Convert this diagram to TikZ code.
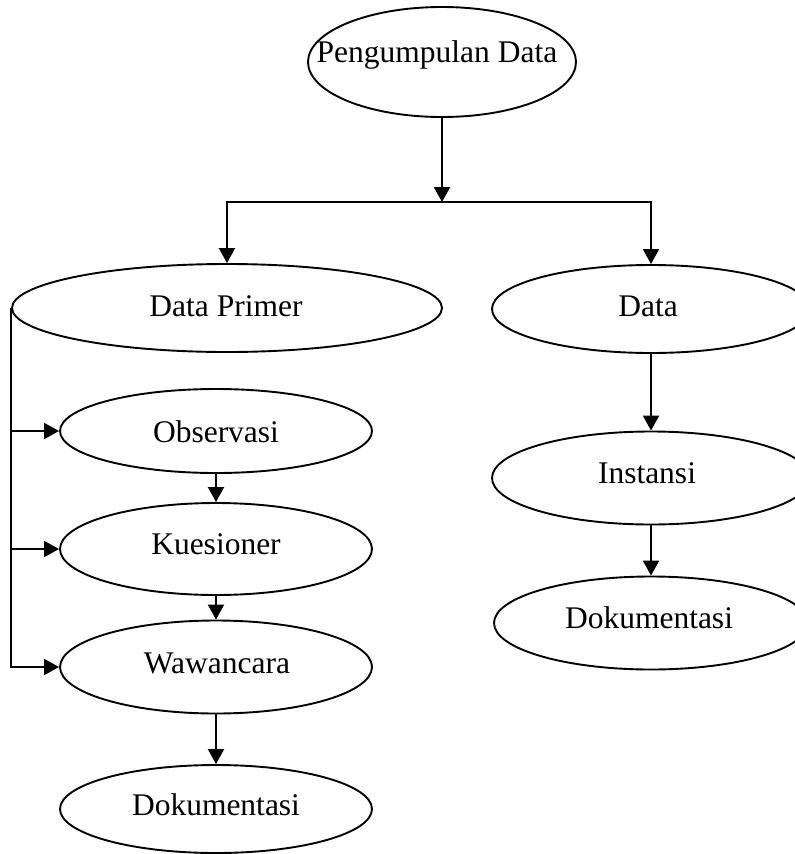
\documentclass[tikz,border=0pt]{standalone}
\usepackage{fontspec}
\setmainfont{Liberation Serif}
\usetikzlibrary{arrows.meta,shapes.geometric}
\begin{document}
\begin{tikzpicture}[x=1pt,y=-1pt,
  ell/.style={draw, ellipse, inner sep=0pt, line width=1.9pt},
  txt/.style={anchor=base, inner sep=0pt, font=\fontsize{31.5}{36}\selectfont},
  arr/.style={line width=2pt, -{Triangle[length=15pt,width=16pt]}}]
\useasboundingbox (0,0) rectangle (795,854);
\clip (0,0) rectangle (795,854);
% ellipses
\node[ell, minimum width=268, minimum height=110] (pd) at (442,62) {};
\node[ell, minimum width=430, minimum height=88] (dp) at (227,308) {};
\node[ell, minimum width=318, minimum height=88] (dt) at (651,309) {};
\node[ell, minimum width=312, minimum height=84] (ob) at (216,431) {};
\node[ell, minimum width=312, minimum height=92] (ku) at (216,549) {};
\node[ell, minimum width=312, minimum height=93] (ww) at (216,667) {};
\node[ell, minimum width=312, minimum height=88] (dk1) at (216,809) {};
\node[ell, minimum width=318, minimum height=93] (in) at (651,478) {};
\node[ell, minimum width=314, minimum height=93] (dk2) at (651,623) {};
% texts
\node[txt] (pdt) at (437,62) {Pengumpulan Data};
\node[txt] (dpt) at (226,316) {Data Primer};
\node[txt] (dtt) at (648,316) {Data};
\node[txt] (obt) at (216,442) {Observasi};
\node[txt] (kut) at (216,554) {Kuesioner};
\node[txt] (wwt) at (217,673) {Wawancara};
\node[txt] (dk1t) at (216,815) {Dokumentasi};
\node[txt] (int) at (647,483) {Instansi};
\node[txt] (dk2t) at (649,628) {Dokumentasi};
% connectors
\coordinate (j) at (442,202);
\draw[arr] (pd.south) -- (j);
\draw[arr] (j) -| (dp.north);
\draw[arr] (j) -| (dt.north);
\draw[arr] (dp.west) |- (ww.west);
\draw[arr] (dp.west |- ob.west) -- (ob.west);
\draw[arr] (dp.west |- ku.west) -- (ku.west);
\draw[arr] (ob.south) -- (ku.north);
\draw[arr] (ku.south) -- (ww.north);
\draw[arr] (ww.south) -- (dk1.north);
\draw[arr] (dt.south) -- (in.north);
\draw[arr] (in.south) -- (dk2.north);
\end{tikzpicture}
\end{document}
